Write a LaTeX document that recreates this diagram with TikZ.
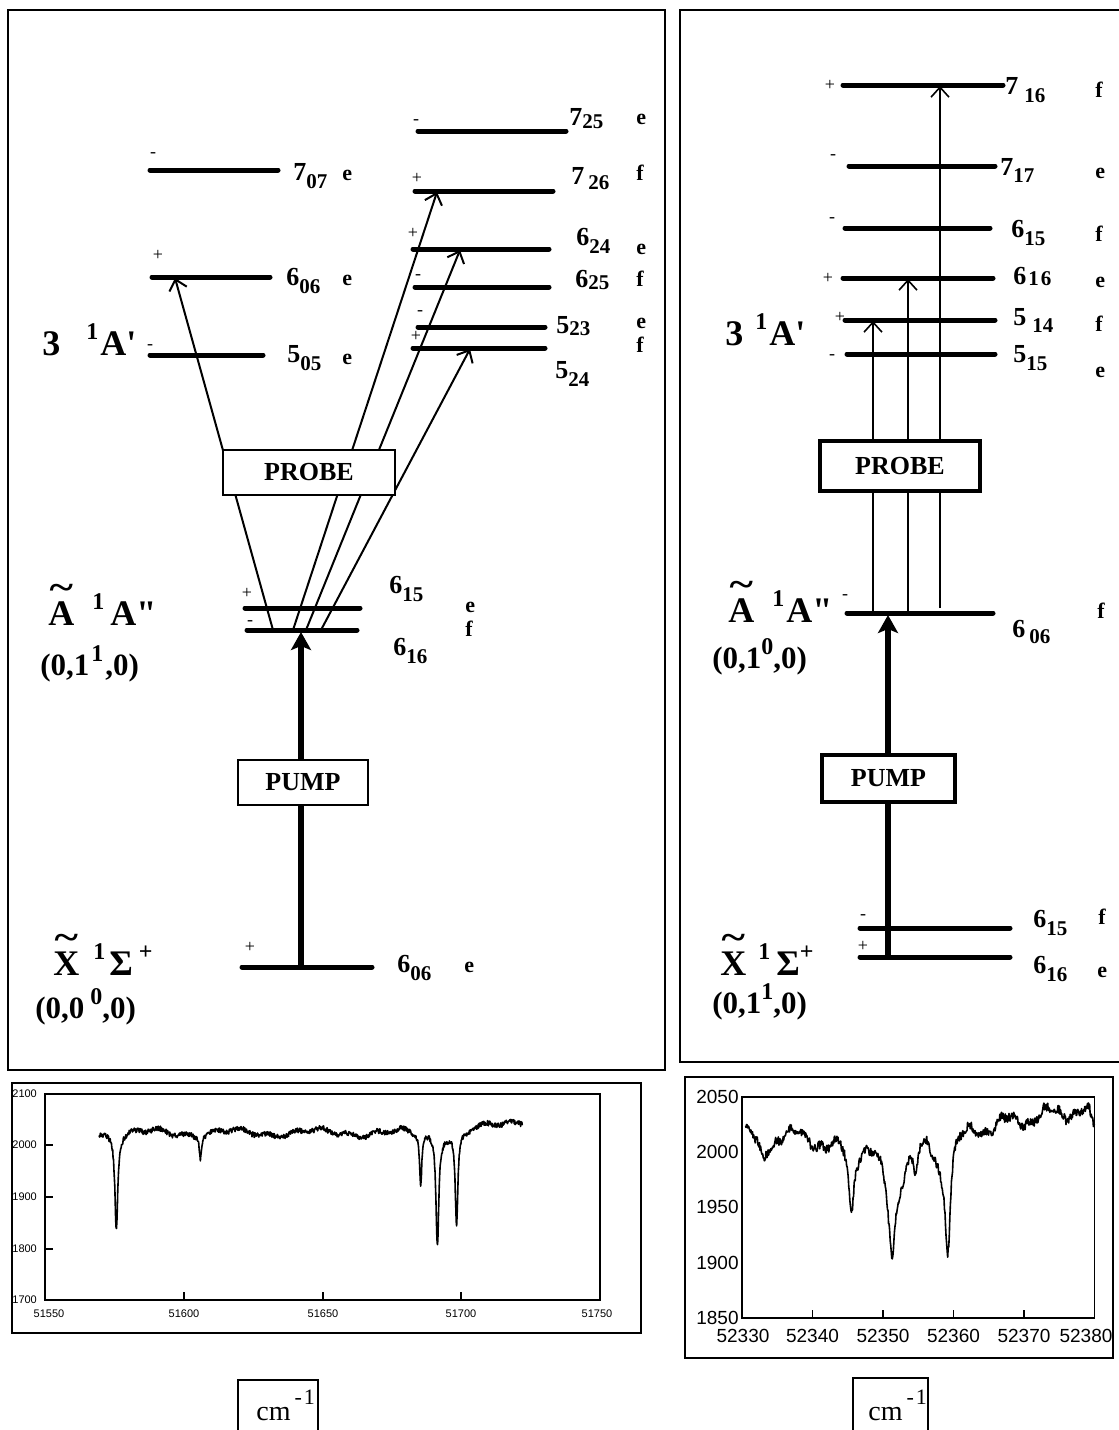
\documentclass[tikz,border=0pt]{standalone}
\usepackage{fontspec}
\usepackage{graphicx}
\setmainfont{Liberation Serif}
\newfontfamily\arialf{Liberation Sans}
\usetikzlibrary{arrows.meta}
\newcommand{\tld}[1]{\leavevmode\ooalign{#1\cr\hidewidth\raisebox{0.7em}{\scalebox{1.25}[1]{\textasciitilde}}\hidewidth\cr}}
\newcommand{\sus}[1]{\raisebox{0.42em}{\fontsize{12}{12}\selectfont #1}}
\newcommand{\lsub}[2][0.32em]{\raisebox{-#1}{\fontsize{10.5}{10.5}\selectfont #2}}
\tikzset{
 lev/.style={line width=2.5pt,line cap=round},
 frm/.style={line width=0.6pt},
 prb/.style={line width=1pt,-{Straight Barb[length=5pt,width=9pt]}},
 prbR/.style={line width=0.8pt,-{Straight Barb[length=5pt,width=9pt]}},
 pmp/.style={line width=2.6pt,-{Stealth[length=9pt,width=10pt,inset=2pt]}},
 boxL/.style={draw,fill=white,line width=0.8pt,inner sep=0pt,font=\fontsize{13}{13}\selectfont\bfseries},
 boxR/.style={boxL,line width=1.6pt},
 lbl/.style={anchor=base west,inner sep=0pt,font=\fontsize{13}{13}\selectfont\bfseries},
 ef/.style={anchor=base west,inner sep=0pt,font=\fontsize{11}{11}\selectfont\bfseries},
 sg/.style={inner sep=0pt,font=\fontsize{9}{9}\selectfont},
 big/.style={anchor=base west,inner sep=0pt,font=\fontsize{18}{18}\selectfont\bfseries},
 vib/.style={anchor=base west,inner sep=0pt,font=\fontsize{15.5}{15.5}\selectfont\bfseries},
 spec/.style={line width=0.8pt,line join=round},
 tickl/.style={inner sep=0pt,font=\fontsize{5.5}{5.5}\selectfont\arialf},
 tickr/.style={inner sep=0pt,font=\fontsize{9.5}{9.5}\selectfont\arialf},
 cmt/.style={anchor=base west,inner sep=0pt,font=\fontsize{14}{14}\selectfont},
 declare function={
  lz(\u,\a,\w)=1/(1+(min(abs(\u-\a)/\w,100))^2);
  dl(\u)=25+6*sin(12*\u)+4*sin(37*\u)+1.2*max(\u-150,0)-185*lz(\u,25.7,0.6)-42*lz(\u,56,0.45)-100*lz(\u,135.4,0.45)-215*lz(\u,141.4,0.6)-185*lz(\u,148.3,0.55);
  dr(\u)=18+1.1*max(\u-28,0)+6*sin(60*\u)+3*sin(170*\u)-22*lz(\u,2.9,0.8)-10*lz(\u,12.5,2)-65*lz(\u,15.5,0.45)-60*lz(\u,21.3,0.5)-50*lz(\u,21.3,1.8)-22*lz(\u,24.6,0.4)-90*lz(\u,29.2,0.45)-20*lz(\u,28.2,1)-20*lz(\u,49.8,0.5);
 }
}
\begin{document}
\begin{tikzpicture}[x=0.5pt,y=-0.5pt]
\useasboundingbox (0,0) rectangle (1119,1430);
\pgfmathsetseed{7}
% ---------- frames
\draw[frm] (8,10) rectangle (665,1070);
\draw[frm] (1119,10) -- (680,10) -- (680,1062) -- (1119,1062);

% ================= LEFT PANEL =================
\draw[lev] (150,170) -- (278,170);
\draw[lev] (152,277) -- (270,277);
\draw[lev] (150,355) -- (263,355);
\draw[lev] (418,131) -- (566,131);
\draw[lev] (415,191) -- (553,191);
\draw[lev] (413,249) -- (549,249);
\draw[lev] (415,287) -- (549,287);
\draw[lev] (418,327) -- (545,327);
\draw[lev] (413,348) -- (545,348);
\draw[lev] (245,608) -- (360,608);
\draw[lev] (247,630) -- (357,630);
\draw[lev] (242,967) -- (372,967);
\node[sg] (sgL1) at (153,155) {-};
\node[sg] (sgL2) at (158,255) {+};
\node[sg] (sgL3) at (150,347) {-};
\node[sg] (sgL4) at (416,122) {-};
\node[sg] (sgL5) at (417,178) {+};
\node[sg] (sgL6) at (413,233) {+};
\node[sg] (sgL7) at (418,277) {-};
\node[sg] (sgL8) at (420,313) {-};
\node[sg] (sgL9) at (416,336) {+};
\node[sg] (sgL10) at (247,593) {+};
\node[sg] (sgL11) at (250,623) {-};
\node[sg] (sgL12) at (250,947) {+};
\node[lbl] (t707) at (293,180) {7\lsub{07}};
\node[ef] (e707) at (342,180) {e};
\node[lbl] (t606) at (286,285) {6\lsub{06}};
\node[ef] (e606) at (342,285) {e};
\node[lbl] (t505) at (287,362) {5\lsub{05}};
\node[ef] (e505) at (342,364) {e};
\node[lbl] (t725) at (569,125) {7\lsub[0.12em]{25}};
\node[ef] (e725) at (636,124) {e};
\node[lbl] (t726) at (571,184) {7\hspace{2pt}\lsub[0.2em]{26}};
\node[ef] (f726) at (636,180) {f};
\node[lbl] (t624) at (576,245) {6\lsub{24}};
\node[ef] (e624) at (636,254) {e};
\node[lbl] (t625) at (575,287) {6\lsub[0.08em]{25}};
\node[ef] (f625) at (636,286) {f};
\node[lbl] (t523) at (556,333) {5\lsub[0.08em]{23}};
\node[ef] (e523) at (636,328) {e};
\node[ef] (f524) at (636,352) {f};
\node[lbl] (t524) at (555,378) {5\lsub{24}};
\node[lbl] (ta615) at (389,593) {6\lsub{15}};
\node[ef] (ea615) at (465,612) {e};
\node[lbl] (ta616) at (393,655) {6\lsub{16}};
\node[ef] (fa616) at (465,636) {f};
\node[lbl] (tx606) at (397,972) {6\lsub{06}};
\node[ef] (ex606) at (464,972) {e};
\node[big] (s3L) at (42,355) {3\hspace{13pt}\sus{1}\hspace{1pt}A\textquotesingle};
\node[big] (sAL) at (48,625) {\tld{A}\hspace{9pt}\sus{1}\hspace{3pt}A\textquotedbl};
\node[vib] (vAL) at (40,675) {(0,1\hspace{1pt}\sus{1}\hspace{1pt},0)};
\node[big] (sXL) at (53,975) {\tld{X}\hspace{7pt}\sus{1}\hspace{2pt}Σ\hspace{3pt}\sus{+}};
\node[vib] (vXL) at (35,1018) {(0,0\hspace{3pt}\sus{0},0)};
\coordinate (pL0) at (273,630);
\coordinate (pL1) at (293,630);
\coordinate (pL2) at (306,630);
\coordinate (pL3) at (321,630);
\coordinate (tL606) at (175,278);
\coordinate (tL726) at (437,192);
\coordinate (tL624) at (460,250);
\coordinate (tL524) at (470,349);
\coordinate (gL) at (301,967);
\coordinate (aL) at (301,632);
\draw[prb] (pL0) -- (tL606);
\draw[prb] (pL1) -- (tL726);
\draw[prb] (pL2) -- (tL624);
\draw[prb] (pL3) -- (tL524);
\draw[pmp] (gL) -- (aL);
\node[boxL,minimum width=86pt,minimum height=22.5pt] (probeL) at (309,472.5) {PROBE};
\node[boxL,minimum width=65pt,minimum height=22.5pt] (pumpL) at (303,782.5) {PUMP};

% ================= RIGHT PANEL =================
\draw[lev] (843,85) -- (1003,85);
\draw[lev] (849,166) -- (995,166);
\draw[lev] (845,228) -- (990,228);
\draw[lev] (843,278) -- (993,278);
\draw[lev] (845,320) -- (995,320);
\draw[lev] (847,354) -- (995,354);
\draw[lev] (847,613) -- (993,613);
\draw[lev] (860,928) -- (1010,928);
\draw[lev] (860,957) -- (1010,957);
\node[sg] (sgR1) at (830,85) {+};
\node[sg] (sgR2) at (833,157) {-};
\node[sg] (sgR3) at (832,220) {-};
\node[sg] (sgR4) at (828,278) {+};
\node[sg] (sgR5) at (840,317) {+};
\node[sg] (sgR6) at (832,357) {-};
\node[sg] (sgR7) at (845,597) {-};
\node[sg] (sgR8) at (863,917) {-};
\node[sg] (sgR9) at (863,946) {+};
\node[lbl] (r716) at (1005,94) {7\hspace{3pt}\lsub{16}};
\node[ef] (rf716) at (1095,97) {f};
\node[lbl] (r717) at (1000,175) {7\lsub[0.3em]{17}};
\node[ef] (re717) at (1095,178) {e};
\node[lbl] (r615) at (1011,237) {6\lsub{15}};
\node[ef] (rf615) at (1095,241) {f};
\node[lbl] (r616) at (1013,284) {6\hspace{1pt}\lsub[0.05em]{1\hspace{1pt}6}};
\node[ef] (re616) at (1095,287) {e};
\node[lbl] (r514) at (1013,325) {5\hspace{3pt}\lsub[0.3em]{14}};
\node[ef] (rf514) at (1095,331) {f};
\node[lbl] (r515) at (1013,362) {5\lsub{15}};
\node[ef] (re515) at (1095,377) {e};
\node[lbl] (ra606) at (1012,637) {6\hspace{2pt}\lsub[0.25em]{06}};
\node[ef] (rfa606) at (1097,618) {f};
\node[lbl] (rx615) at (1033,927) {6\lsub{15}};
\node[ef] (rfx615) at (1098,924) {f};
\node[lbl] (rx616) at (1033,973) {6\lsub{16}};
\node[ef] (rex616) at (1097,977) {e};
\node[big] (s3R) at (725,345) {3\hspace{6pt}\sus{1}\hspace{1pt}A\textquotesingle};
\node[big] (sAR) at (728,622) {\tld{A}\hspace{9pt}\sus{1}\hspace{1pt}A\textquotedbl};
\node[vib] (vAR) at (712,668) {(0,1\sus{0},0)};
\node[big] (sXR) at (720,975) {\tld{X}\hspace{6pt}\sus{1}\hspace{3pt}Σ\sus{+}};
\node[vib] (vXR) at (712,1013) {(0,1\sus{1},0)};
\coordinate (rs1) at (873,613);
\coordinate (rt1) at (873,321);
\coordinate (rs2) at (908,613);
\coordinate (rt2) at (908,279);
\coordinate (rs3) at (940,608);
\coordinate (rt3) at (940,86);
\coordinate (gR) at (888,957);
\coordinate (aR) at (888,615);
\draw[prbR] (rs1) -- (rt1);
\draw[prbR] (rs2) -- (rt2);
\draw[prbR] (rs3) -- (rt3);
\draw[pmp] (gR) -- (aR);
\node[boxR,minimum width=80pt,minimum height=25pt] (probeR) at (900,466) {PROBE};
\node[boxR,minimum width=66.5pt,minimum height=23.5pt] (pumpR) at (888.5,778.5) {PUMP};

% ================= LEFT SPECTRUM =================
\draw[frm] (12,1083) rectangle (641,1333);
\draw[line width=0.7pt] (45,1094) rectangle (600,1300);
\foreach \yy in {1145,1197,1249} \draw[frm] (45,\yy) -- (53,\yy);
\foreach \xx in {184,323,461} \draw[frm] (\xx,1300) -- (\xx,1292);
\node[tickl,anchor=west] (ly1) at (12,1094) {2100};
\node[tickl,anchor=west] (ly2) at (12,1145) {2000};
\node[tickl,anchor=west] (ly3) at (12,1197) {1900};
\node[tickl,anchor=west] (ly4) at (12,1249) {1800};
\node[tickl,anchor=west] (ly5) at (12,1300) {1700};
\node[tickl] (lx1) at (49,1314) {51550};
\node[tickl] (lx2) at (184,1314) {51600};
\node[tickl] (lx3) at (323,1314) {51650};
\node[tickl] (lx4) at (461,1314) {51700};
\node[tickl] (lx5) at (597,1314) {51750};
\draw[spec] plot[domain=19.5:172,samples=1000] ({45+2.775*\x},{1145.5-0.515*(dl(\x)+5*rand)});

% ================= RIGHT SPECTRUM =================
\draw[frm] (685,1077) rectangle (1113,1358);
\draw[line width=0.7pt] (742,1097) rectangle (1094.5,1318);
\foreach \xx in {812.5,883,953.5,1024} \draw[frm] (\xx,1318) -- (\xx,1310);
\node[tickr,anchor=east] (ry1) at (739,1097) {2050};
\node[tickr,anchor=east] (ry2) at (739,1152) {2000};
\node[tickr,anchor=east] (ry3) at (739,1207) {1950};
\node[tickr,anchor=east] (ry4) at (739,1263) {1900};
\node[tickr,anchor=east] (ry5) at (739,1318) {1850};
\node[tickr] (rx1) at (743,1336) {52330};
\node[tickr] (rx2) at (812.5,1336) {52340};
\node[tickr] (rx3) at (883,1336) {52350};
\node[tickr] (rx4) at (953.5,1336) {52360};
\node[tickr] (rx5) at (1024,1336) {52370};
\node[tickr] (rx6) at (1086,1336) {52380};
\draw[spec] plot[domain=0.5:50,samples=650] ({742+7.05*\x},{1152.25-1.105*(dr(\x)+4*rand)});

% ================= cm^-1 boxes =================
\draw[frm] (238,1436) |- (318,1380) -- (318,1436);
\node[cmt] (cmL) at (256,1420) {cm\hspace{2pt}\raisebox{0.55em}{\fontsize{11}{11}\selectfont -\hspace{1pt}1}};
\draw[frm] (853,1436) |- (928,1378) -- (928,1436);
\node[cmt] (cmR) at (868,1420) {cm\hspace{2pt}\raisebox{0.55em}{\fontsize{11}{11}\selectfont -\hspace{1pt}1}};
\end{tikzpicture}
\end{document}
